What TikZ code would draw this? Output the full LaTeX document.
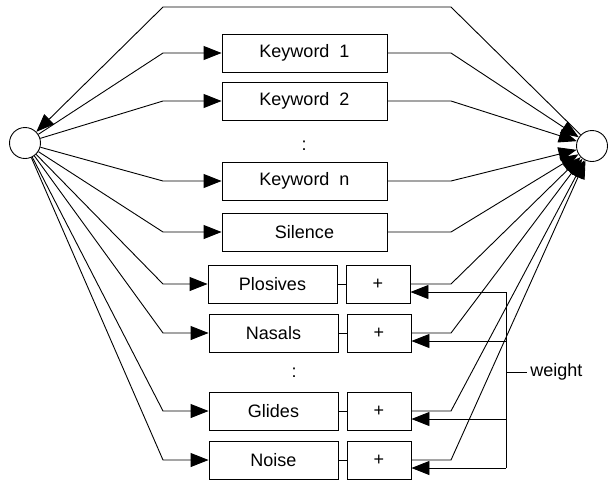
\documentclass[tikz,border=0pt]{standalone}
\usepackage{fontspec}
\setmainfont{Liberation Sans}
\usetikzlibrary{arrows.meta}
\tikzset{
	model/.style={draw,line width=0.9pt,minimum height=38pt,inner sep=0pt,font=\fontsize{18}{21}\selectfont},
	hub/.style={draw,circle,line width=0.9pt,minimum size=31pt,inner sep=0pt},
	feed/.style={-{Triangle[length=18pt,width=14pt]}},
}
\begin{document}
\begin{tikzpicture}[x=1pt,y=-1pt,line width=0.9pt]
	\useasboundingbox (0,0) rectangle (610,480);
	% start and end states
	\node[hub] (start) at (25,143) {};
	\node[hub] (end) at (592,146) {};
	% keyword models
	\node[model,minimum width=165pt] (kw1) at (304.5,53) {Keyword\ \ 1};
	\node[model,minimum width=165pt] (kw2) at (304.5,101) {Keyword\ \ 2};
	\node[font=\fontsize{18}{21}\selectfont] (dots1) at (304,146) {:};
	\node[model,minimum width=165pt] (kwn) at (304.5,181) {Keyword\ \ n};
	\node[model,minimum width=165pt] (sil) at (304.5,232) {Silence};
	% phoneme class models, each with its adder
	\node[model,minimum width=129pt] (plo) at (272.5,284) {Plosives};
	\node[model,minimum width=64pt] (aplo) at (378,284) {+};
	\node[model,minimum width=129pt] (nas) at (273.5,333) {Nasals};
	\node[model,minimum width=64pt] (anas) at (379,333) {+};
	\node[font=\fontsize{18}{21}\selectfont] (dots2) at (294,373) {:};
	\node[model,minimum width=129pt] (gli) at (273.5,411) {Glides};
	\node[model,minimum width=64pt] (agli) at (379,411) {+};
	\node[model,minimum width=129pt] (noi) at (273.5,460) {Noise};
	\node[model,minimum width=64pt] (anoi) at (379,460) {+};
	% columns where the links bend
	\coordinate (lcol) at (163,7);
	\coordinate (rcol) at (451,7);
	\coordinate (wcol) at (506,372);
	\node[anchor=west,inner sep=3pt,font=\fontsize{18}{21}\selectfont] (wt) at (527,372) {weight};

	% loop back over the top
	\draw[feed] (end) -- (rcol) -- (lcol) -- (start);

	\foreach \m in {kw1,kw2,kwn,sil,plo,nas,gli,noi}
		\draw[feed] (start) -- (lcol |- \m.west) -- (\m.west);
	\foreach \m in {kw1,kw2,kwn,sil}
		\draw[feed] (\m.east) -- (rcol |- \m.east) -- (end);
	\foreach \m in {plo,nas,gli,noi}{
		\coordinate (in\m) at ([yshift=-8pt]a\m.east);
		\draw (\m) -- (a\m);
		\draw[feed] (a\m.east) -- (rcol |- a\m.east) -- (end);
		\draw[feed] (in\m -| wcol) -- (in\m);
	}
	% weight bus
	\draw (inplo -| wcol) -- (innoi -| wcol);
	\draw (wcol) -- (wt.west);
\end{tikzpicture}
\end{document}
